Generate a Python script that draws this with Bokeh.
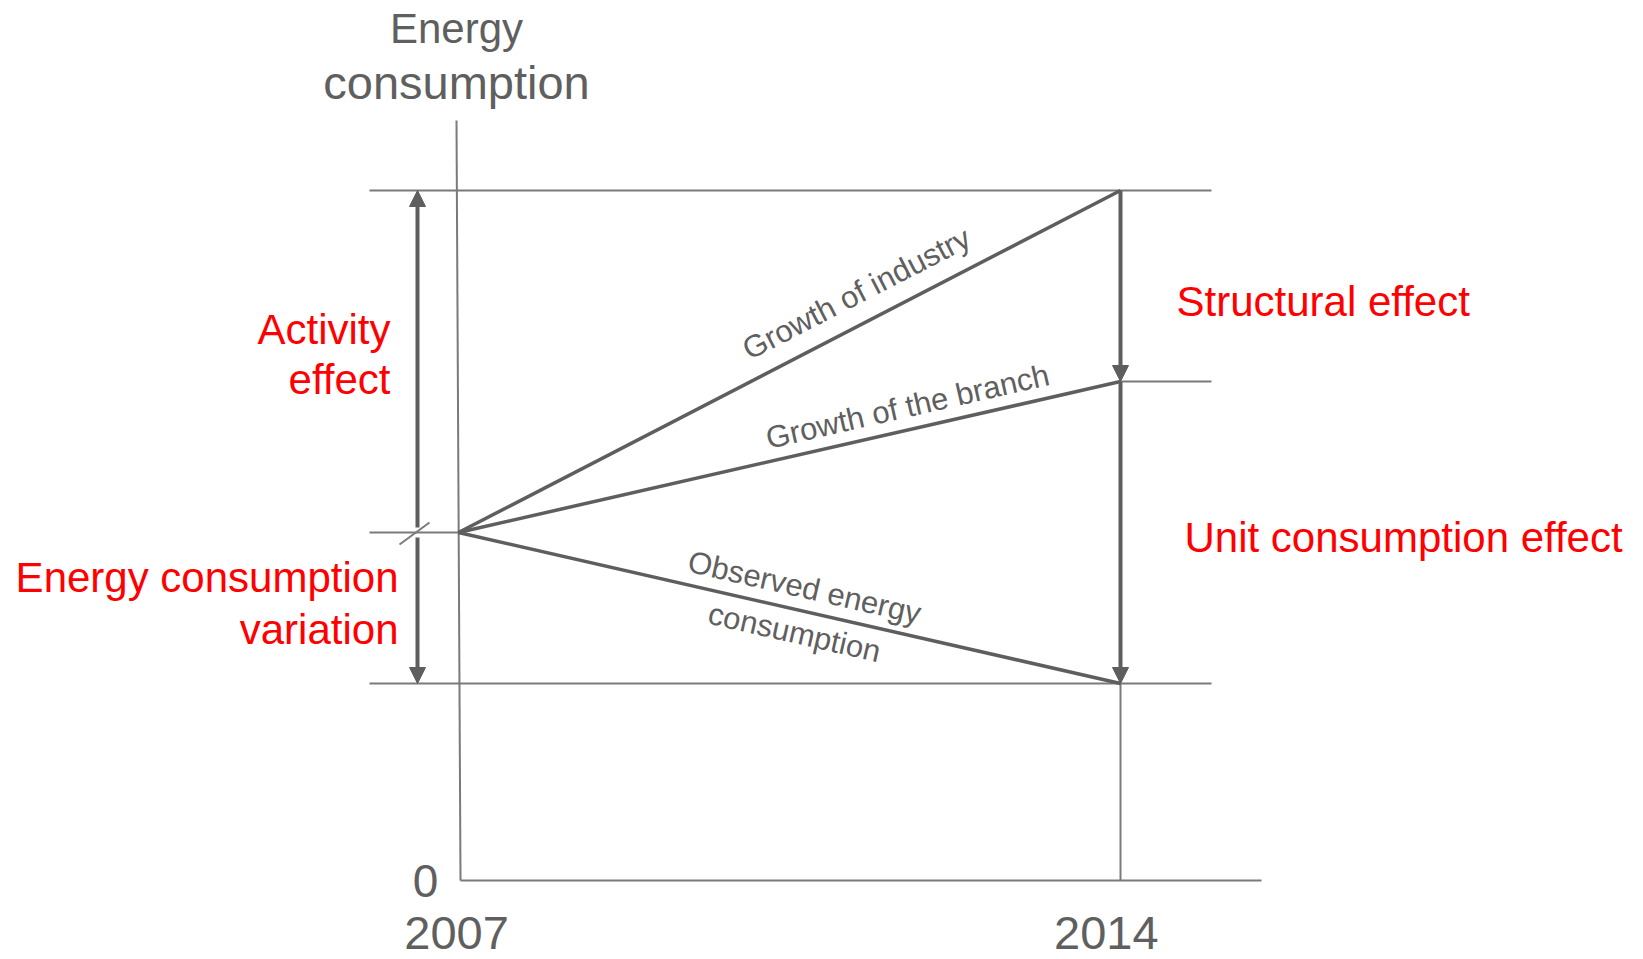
import math
from bokeh.plotting import figure
from bokeh.models import Arrow, NormalHead
from bokeh.core.properties import value
from bokeh.embed import file_html
from bokeh.resources import INLINE

# ---- data (schematic values) ----
years = [2007, 2014]
start_value = 34.8          # energy consumption in 2007
industry_2014 = 69.0        # growth of industry
branch_2014 = 49.9          # growth of the branch
observed_2014 = 19.7        # observed energy consumption
tick_years = ["2007", "2014"]
zero_label = "0"

# ---- page geometry helpers ----
W, H = 1640, 958
OFF = 0                     # page offset of the figure
XPX = (1120 - 458) / 7.0    # pixels per year
YPX = 10.0                  # pixels per unit


def fx(px):
    return years[0] + (px - 458) / XPX


def fy(py):
    return (880 - py) / YPX


p = figure(width=W, height=H, x_range=(fx(OFF), fx(OFF + W)), y_range=(fy(OFF + H), fy(OFF)),
           min_border=0, outline_line_color=None, toolbar_location=None,
           x_axis_location=None, y_axis_location=None, output_backend="svg")
p.grid.visible = False
p.background_fill_color = "white"
p.border_fill_color = "white"

THIN = "#7a7a7a"
THICK = "#5e5e5e"
TXT = "#5f5f5f"
RED = "#ff0000"
FONT = value("Liberation Sans")

y0, y1 = years
# reference horizontals
for v in (industry_2014, observed_2014):
    p.segment(x0=fx(369), y0=v, x1=fx(1211), y1=v, line_color=THIN, line_width=2)
p.segment(x0=y1, y0=branch_2014, x1=fx(1211), y1=branch_2014, line_color=THIN, line_width=2)
p.segment(x0=fx(369), y0=start_value, x1=y0, y1=start_value, line_color=THIN, line_width=2)
# axes
p.segment(x0=fx(456), y0=fy(120), x1=fx(460), y1=0, line_color=THIN, line_width=2)
p.segment(x0=fx(460), y0=0, x1=fx(1261), y1=0, line_color=THIN, line_width=2)
p.segment(x0=y1, y0=observed_2014, x1=y1, y1=0, line_color=THIN, line_width=2)
# slash
p.segment(x0=fx(399), y0=fy(544), x1=fx(429), y1=fy(522), line_color=THIN, line_width=2)

# trend lines
for v in (industry_2014, branch_2014, observed_2014):
    p.line(x=[y0, y1], y=[start_value, v], line_color=THICK, line_width=3.5)


def head():
    return NormalHead(size=16, fill_color=THICK, line_color=THICK, line_width=1)


ax = fx(417)
p.add_layout(Arrow(x_start=ax, y_start=start_value + 0.5, x_end=ax, y_end=industry_2014,
                   end=head(), line_color=THICK, line_width=4))
p.add_layout(Arrow(x_start=ax, y_start=start_value - 0.5, x_end=ax, y_end=observed_2014,
                   end=head(), line_color=THICK, line_width=4))
p.add_layout(Arrow(x_start=y1, y_start=industry_2014, x_end=y1, y_end=branch_2014,
                   end=head(), line_color=THICK, line_width=4))
p.add_layout(Arrow(x_start=y1, y_start=branch_2014, x_end=y1, y_end=observed_2014,
                   end=head(), line_color=THICK, line_width=4))


def txt(x, y, s, size, color, align="center", angle=0.0):
    p.text(x=[x], y=[y], text=[s], text_font=FONT, text_font_size=value(f"{size}px"),
           text_color=color, text_align=align, text_baseline="middle", angle=angle)


# axis title
txt(fx(456), fy(28), "Energy", 42, TXT)
txt(fx(456), fy(82), "consumption", 47, TXT)
# ticks
txt(fx(425), 0, zero_label, 46, TXT)
txt(y0 - 0.02, fy(932), tick_years[0], 47, TXT)
txt(y1 - 0.15, fy(932), tick_years[1], 47, TXT)

# red labels
txt(fx(390), fy(329), "Activity", 42, RED, "right")
txt(fx(390), fy(379), "effect", 42, RED, "right")
txt(fx(398), fy(577), "Energy consumption", 42, RED, "right")
txt(fx(398), fy(629), "variation", 42, RED, "right")
txt(fx(1176), fy(301), "Structural effect", 42, RED, "left")
txt(fx(1184), fy(537), "Unit consumption effect", 42, RED, "left")

# rotated line labels
a_ind = math.atan2((industry_2014 - start_value) * YPX, (y1 - y0) * XPX)
a_br = math.atan2((branch_2014 - start_value) * YPX, (y1 - y0) * XPX)
a_obs = math.atan2((observed_2014 - start_value) * YPX, (y1 - y0) * XPX)
txt(fx(856), fy(293), "Growth of industry", 31, TXT, angle=a_ind)
txt(fx(907), fy(406), "Growth of the branch", 31, TXT, angle=a_br)
txt(fx(804), fy(587), "Observed energy", 31, TXT, angle=a_obs)
txt(fx(794), fy(632), "consumption", 31, TXT, angle=a_obs)

open("out.html", "w").write(file_html(p, INLINE))
